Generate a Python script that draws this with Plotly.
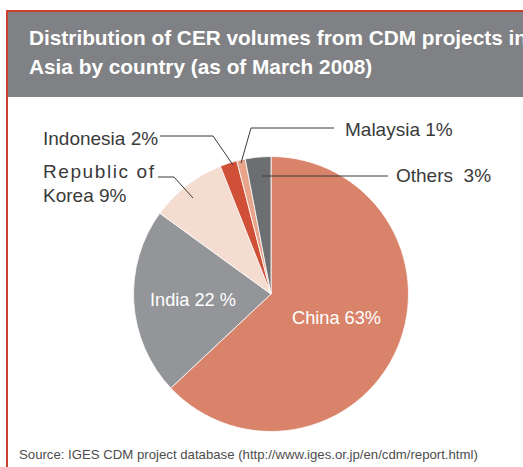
import plotly.graph_objects as go

W, H = 523, 467

# data
countries = ["China", "India", "Republic of Korea", "Indonesia", "Malaysia", "Others"]
shares = [63, 22, 9, 2, 1, 3]
slice_colors = ["#D9846A", "#939598", "#F4DCD0", "#D04F37", "#E7A48A", "#6D6E72"]

title_lines = ["Distribution of CER volumes from CDM projects in",
               "Asia by country (as of March 2008)"]
source_text = "Source: IGES CDM project database (http://www.iges.or.jp/en/cdm/report.html)"

FONT = "Liberation Sans, Arial, sans-serif"


def px(x):
    return x / W


def py(y):
    return 1 - y / H


# pie geometry (pixels)
cx, cy, r = 271, 294, 137.5

fig = go.Figure(go.Pie(
    labels=countries,
    values=shares,
    sort=False,
    direction="clockwise",
    rotation=0,
    marker=dict(colors=slice_colors, line=dict(color="white", width=0.8)),
    textinfo="none",
    hoverinfo="label+percent",
    showlegend=False,
    domain=dict(x=[px(cx - r), px(cx + r)], y=[py(cy + r), py(cy - r)]),
))

shapes = []
# red frame (top + left visible) and gray title bar
shapes.append(dict(type="rect", xref="paper", yref="paper",
                   x0=px(7), x1=px(W + 20), y0=py(H + 20), y1=py(11),
                   line=dict(color="#C9402E", width=2), fillcolor="rgba(0,0,0,0)"))
shapes.append(dict(type="rect", xref="paper", yref="paper",
                   x0=px(8), x1=px(W + 5), y0=py(97), y1=py(12),
                   line=dict(width=0), fillcolor="#808184", layer="below"))


def leader(points):
    d = "M " + " L ".join(f"{px(x)},{py(y)}" for x, y in points)
    shapes.append(dict(type="path", xref="paper", yref="paper", path=d,
                       line=dict(color="#3A3A3A", width=1)))


leader([(160, 136), (213, 136), (233, 165)])   # Indonesia
leader([(334, 128), (251, 128), (241, 163)])   # Malaysia
leader([(158, 177), (174, 177), (193, 198)])   # Korea
leader([(262, 176), (388, 176)])               # Others

annotations = []


def label(text, x, y, size=19, color="#3A3A3A", anchor="left", bold=False):
    annotations.append(dict(
        text=f"<b>{text}</b>" if bold else text,
        x=px(x), y=py(y), xref="paper", yref="paper",
        xanchor=anchor, yanchor="middle", showarrow=False,
        font=dict(family=FONT, size=size, color=color),
    ))


label(title_lines[0], 27, 37, size=20.8, color="white", bold=True)
label(title_lines[1], 27, 67, size=20.8, color="white", bold=True)

label(f"{countries[0]} {shares[0]}%", 336, 318, size=18.2, color="white", anchor="center")
label(f"{countries[1]} {shares[1]} %", 193, 300, size=18.2, color="white", anchor="center")
label(f"{countries[3]} {shares[3]}%", 41, 138)
label(f"{countries[4]} {shares[4]}%", 343, 129)
# "Republic of" is letter-spaced in the original
label("\u200a".join("Republic of"), 41, 171)
label(f"Korea {shares[2]}%", 41, 195)
label(f"{countries[5]}  {shares[5]}%", 394, 176)

label(source_text, 17, 454, size=13.2, color="#4D4D4D")

fig.update_layout(
    width=W, height=H,
    margin=dict(l=0, r=0, t=0, b=0),
    paper_bgcolor="white", plot_bgcolor="white",
    shapes=shapes, annotations=annotations,
)

fig.write_html("out.html", config={"displayModeBar": False},
               post_script="document.body.style.margin='0';")
